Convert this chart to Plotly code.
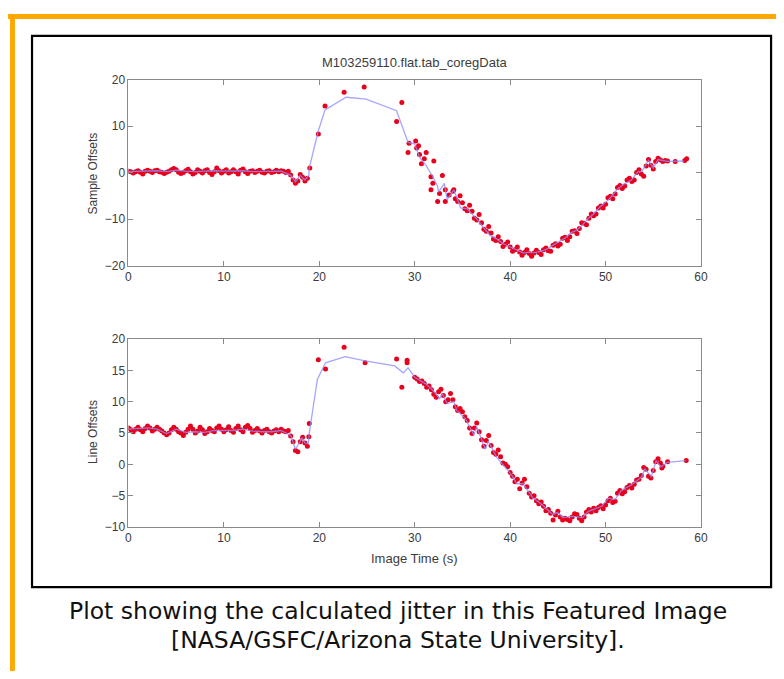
import numpy as np
import plotly.graph_objects as go

# The page body keeps its default 8px margin, so the figure is sized to fit the
# 784x679 window exactly and all reference pixel positions are offset by 8px.
PAGE_OFF = 8
W, H = 776, 663

# ---------------- DATA ----------------
title_text = "M103259110.flat.tab_coregData"
x_ticks = [0, 10, 20, 30, 40, 50, 60]
top_y_ticks = [-20, -10, 0, 10, 20]
bot_y_ticks = [-10, -5, 0, 5, 10, 15, 20]

# sample time grids (s) of the dense image-line samples
t_early = np.round(np.arange(0, 76) * 0.25, 2)          # 0 .. 18.75
t_top_late = np.round(34 + np.arange(0, 91) * 0.25, 2)  # 34 .. 56.5
t_bot_late = np.round(30 + np.arange(0, 105) * 0.25, 2) # 30 .. 56

# ---- Sample offsets (top panel) ----
sample_early = [
    0.3, 0.2, -0.1, 0.2, 0.4, 0.1, -0.3, 0.3, 0.5, 0.3, 0.0, 0.4, 0.5, 0.2, 0.1, -0.2,
    0.1, 0.3, 0.6, 0.9, 0.6, 0.1, -0.2, 0.0, 0.4, 0.7, 0.2, -0.3, 0.0, 0.6, 0.3, -0.1,
    0.4, 0.6, 0.0, -0.4, 0.2, 1.0, 0.4, -0.1, 0.3, 0.6, -0.1, 0.2, 0.6, 0.2, -0.3, 0.5,
    0.8, 0.2, -0.2, 0.3, 0.4, 0.0, 0.3, 0.5, 0.1, -0.1, 0.3, 0.4, 0.0, 0.2, 0.5, 0.2,
    0.4, 0.3, 0.0, 0.3, -0.5, -1.6, -2.3, -1.8, -0.4, -1.0, -1.8, -1.2,
]
sample_sparse_t = [19.0, 19.9, 20.6, 22.6, 24.7, 28.1, 28.65, 29.3, 29.4, 30.1, 30.2, 30.4,
                   30.5, 30.7, 31.0, 31.2, 31.7, 31.9, 31.7, 32.0, 32.4, 32.6, 32.9, 33.2,
                   33.2, 33.6, 34.1, 57.3, 58.3, 58.5]
sample_sparse_v = [1.0, 8.3, 14.3, 17.3, 18.4, 11.0, 15.1, 4.3, 6.3, 6.8, 5.3, 5.8,
                   3.9, 1.9, 3.0, 4.3, -0.9, -2.3, -3.7, 2.5, -6.2, -4.5, -0.6, -3.7,
                   -6.2, -4.8, -3.7, 2.4, 2.6, 3.0]
sample_late = [
    -4.0, -5.6, -6.2, -5.0, -6.5, -7.8, -8.2, -7.0, -8.3, -9.8, -10.2, -9.0,
    -10.8, -12.2, -12.6, -11.6, -13.0, -14.3, -14.6, -13.8, -14.8, -15.9, -15.4, -14.9,
    -16.0, -16.9, -16.6, -16.0, -17.1, -17.8, -17.2, -16.6, -17.4, -18.0, -17.3, -16.7,
    -17.2, -17.6, -16.6, -16.2, -16.8, -16.9, -15.6, -15.3, -15.8, -15.4, -14.1, -13.9,
    -14.6, -13.8, -12.6, -12.5, -13.1, -12.0, -10.8, -10.9, -11.2, -9.8, -8.9, -9.3,
    -8.9, -7.6, -7.2, -7.6, -6.8, -5.4, -5.1, -5.6, -4.6, -3.2, -2.8, -3.4,
    -2.9, -1.6, -1.2, -1.9, -1.6, 0.0, 0.6, -0.3, -0.8, 1.4, 2.8, 1.6,
    0.8, 2.4, 3.1, 2.7, 2.4, 2.6, 2.5,
]
sample_fit_t = [0, 1, 2, 3, 4, 5, 6, 7, 8, 9, 10, 11, 12, 13, 14, 15, 16, 17, 17.5, 18, 18.5,
                18.9, 18.95, 19.9, 20.6, 22.8, 24.9, 28.1, 29.3, 30.0, 30.5, 31.2, 31.9, 32.4,
                32.5, 33.1, 33.4, 34.1, 34.8, 35.5, 36.5, 37.2, 37.9, 38.6, 39.3, 40.0, 40.7,
                41.4, 42.0, 42.6, 43.3, 43.8, 44.5, 45.1, 45.8, 46.4, 46.9, 47.6, 48.2, 48.8,
                49.4, 50.0, 50.6, 51.3, 52.0, 52.7, 53.4, 53.8, 54.5, 55.0, 55.5, 56.0, 56.5, 58.2]
sample_fit_v = [0.2, 0.3, 0.4, 0.4, 0.2, 0.5, 0.3, 0.2, 0.3, 0.4, 0.3, 0.3, 0.4, 0.2, 0.2, 0.2,
                0.3, -0.6, -2.0, -0.6, -1.6, -0.6, 1.0, 9.0, 13.5, 16.2, 15.8, 13.3, 6.5, 6.2,
                3.3, 1.5, -0.9, -3.0, -4.2, -2.3, -5.8, -3.7, -7.6, -7.8, -10.0, -11.8, -13.5,
                -14.3, -15.3, -16.0, -16.7, -17.3, -17.1, -17.2, -16.9, -16.5, -15.6, -14.8,
                -14.0, -12.9, -12.5, -11.2, -9.8, -8.8, -7.4, -6.4, -5.2, -3.4, -2.4, -1.6,
                0.2, 0.2, 2.6, 1.0, 2.8, 2.6, 2.4, 2.5]

# ---- Line offsets (bottom panel) ----
line_early = [
    5.8, 5.5, 5.2, 5.6, 5.9, 5.5, 5.2, 5.7, 6.1, 5.8, 5.3, 5.6, 5.9, 5.6, 5.3, 5.0,
    4.7, 5.0, 5.5, 5.9, 5.6, 5.2, 5.0, 4.6, 5.1, 5.6, 6.1, 5.6, 5.0, 5.3, 5.9, 5.5,
    4.9, 5.2, 5.7, 5.4, 5.2, 5.8, 6.1, 5.6, 5.2, 5.5, 6.0, 5.4, 5.1, 5.7, 6.1, 5.5,
    5.2, 5.9, 6.2, 5.7, 5.1, 5.4, 5.7, 5.3, 5.0, 5.4, 5.6, 5.2, 5.0, 5.3, 5.5, 5.2,
    5.6, 5.3, 5.2, 5.4, 4.5, 3.6, 2.2, 2.0, 3.6, 4.3, 3.4, 2.9,
]
line_sparse_t = [18.9, 18.95, 19.9, 20.65, 22.6, 24.8, 28.1, 28.65, 29.2, 29.2, 55.9, 56.5, 58.45]
line_sparse_v = [4.4, 6.5, 16.7, 15.2, 18.7, 16.2, 16.8, 12.3, 16.6, 16.2, -0.6, 0.4, 0.6]
line_late = [
    13.9, 13.6, 13.2, 13.3, 12.9, 12.3, 12.5, 11.9, 11.2, 10.7, 11.6, 12.0,
    11.0, 10.0, 10.3, 11.3, 10.3, 9.2, 8.6, 8.9, 8.4, 7.6, 7.0, 5.8,
    4.9, 5.8, 6.6, 5.2, 3.9, 2.9, 3.8, 4.6, 3.0, 1.9, 1.6, 2.3,
    1.2, 0.2, 0.0, -0.4, -1.3, -1.9, -2.8, -2.4, -3.9, -3.0, -2.4, -3.6,
    -4.6, -5.2, -5.0, -5.8, -6.3, -6.0, -6.7, -7.4, -7.2, -7.8, -8.9, -8.1,
    -7.5, -8.4, -8.9, -8.6, -8.8, -9.0, -8.4, -7.9, -8.0, -8.6, -9.0, -8.4,
    -7.6, -7.2, -7.6, -7.0, -7.4, -6.9, -6.6, -7.1, -6.5, -5.8, -5.4, -6.1,
    -5.9, -4.6, -4.2, -4.7, -4.4, -3.7, -3.4, -3.8, -3.2, -2.5, -2.4, -1.8,
    -0.5, -0.8, -1.9, -2.2, -1.0, 0.4, 0.9, 0.2, -0.3,
]
line_fit_t = [0, 1, 2, 3, 4, 5, 6, 7, 8, 9, 10, 11, 12, 13, 14, 15, 16, 17, 17.5, 18.0, 18.2,
              18.5, 18.85, 18.95, 19.3, 19.8, 20.65, 22.7, 24.8, 27.9, 28.8, 29.3, 30.0, 30.65,
              31.2, 31.9, 32.6, 32.9, 33.4, 34.1, 34.4, 35.3, 35.8, 36.2, 36.5, 37.0, 37.4,
              37.7, 38.6, 39.6, 40.2, 40.7, 41.35, 42.4, 43.4, 44.45, 45.0, 45.5, 46.5, 47.6,
              48.2, 49.6, 50.3, 51.0, 51.7, 52.7, 53.8, 54.1, 54.8, 55.3, 55.8, 56.5, 58.4]
line_fit_v = [5.6, 5.7, 5.8, 5.6, 4.9, 5.6, 5.1, 5.2, 5.1, 5.4, 5.4, 5.4, 5.6, 5.3, 5.2, 5.2,
              5.4, 4.6, 2.4, 3.6, 4.2, 3.4, 3.3, 5.0, 8.9, 13.6, 16.2, 17.2, 16.5, 15.7, 14.6,
              15.4, 13.9, 13.3, 12.8, 11.8, 10.5, 11.25, 9.7, 10.0, 8.6, 7.3, 5.8, 4.7, 6.0,
              4.0, 2.4, 3.7, 1.1, -0.7, -1.8, -3.1, -3.1, -5.4, -6.5, -8.0, -7.7, -8.5, -8.3,
              -8.5, -7.5, -6.7, -5.4, -5.6, -4.1, -3.3, -2.0, -0.7, -2.0, 0.6, -0.4, 0.3, 0.6]

assert len(sample_early) == len(t_early) and len(line_early) == len(t_early)
assert len(sample_late) == len(t_top_late) and len(line_late) == len(t_bot_late)
assert len(sample_fit_t) == len(sample_fit_v) and len(line_fit_t) == len(line_fit_v)
assert len(sample_sparse_t) == len(sample_sparse_v) and len(line_sparse_t) == len(line_sparse_v)

# ---------------- FIGURE ----------------
RED = "#e8001c"
BLUE = "#8e8eff"
AX = "#8a8a8a"
TXT = "#3c3c3c"
FONT = "Liberation Sans, Arial, sans-serif"


def px_x(p):
    return (p - PAGE_OFF) / W


def px_y(p):
    return 1 - (p - PAGE_OFF) / H


fig = go.Figure()


def add_panel(xa, ya, fit_t, fit_v, groups):
    for tt, vv in groups:
        fig.add_trace(go.Scatter(x=list(tt), y=vv, mode="markers", xaxis=xa, yaxis=ya,
                                 marker=dict(color=RED, size=5, line=dict(width=0)),
                                 hoverinfo="skip", showlegend=False))
    fig.add_trace(go.Scatter(x=fit_t, y=fit_v, mode="lines", xaxis=xa, yaxis=ya,
                             line=dict(color=BLUE, width=1.3), opacity=0.8,
                             hoverinfo="skip", showlegend=False))


add_panel("x", "y", sample_fit_t, sample_fit_v,
          [(t_early, sample_early), (sample_sparse_t, sample_sparse_v), (t_top_late, sample_late)])
add_panel("x2", "y2", line_fit_t, line_fit_v,
          [(t_early, line_early), (line_sparse_t, line_sparse_v), (t_bot_late, line_late)])

axis_common = dict(showline=True, linecolor=AX, linewidth=1, mirror="ticks", ticks="inside",
                   ticklen=5, tickcolor=AX, tickwidth=1, showgrid=False, zeroline=False,
                   tickfont=dict(family=FONT, size=12, color=TXT))

fig.update_layout(
    width=W, height=H, margin=dict(l=0, r=0, t=0, b=0),
    paper_bgcolor="white", plot_bgcolor="white", showlegend=False,
    xaxis=dict(domain=[px_x(127), px_x(707)], range=[0, 60], tickvals=x_ticks, anchor="y", **axis_common),
    yaxis=dict(domain=[px_y(264), px_y(74)], range=[-20, 20], tickvals=top_y_ticks, anchor="x", **axis_common),
    xaxis2=dict(domain=[px_x(127), px_x(707)], range=[0, 60], tickvals=x_ticks, anchor="y2", **axis_common),
    yaxis2=dict(domain=[px_y(531), px_y(339)], range=[-10, 20], tickvals=bot_y_ticks, anchor="x2", **axis_common),
)

shapes = [
    # orange frame (top and left)
    dict(type="rect", xref="paper", yref="paper", x0=px_x(5), x1=px_x(790), y0=px_y(12), y1=px_y(7),
         fillcolor="#FFA800", line=dict(width=0), layer="above"),
    dict(type="rect", xref="paper", yref="paper", x0=px_x(7), x1=px_x(12), y0=px_y(690), y1=px_y(7),
         fillcolor="#FFA800", line=dict(width=0), layer="above"),
    # black box around the figure
    dict(type="rect", xref="paper", yref="paper", x0=px_x(29.3), x1=px_x(778), y0=px_y(592.5), y1=px_y(29.3),
         fillcolor="rgba(0,0,0,0)", line=dict(color="black", width=2.2), layer="above"),
]
fig.update_layout(shapes=shapes)

annots = [
    dict(text=title_text, x=px_x(417), y=px_y(57), font=dict(family=FONT, size=13, color=TXT)),
    dict(text="Sample Offsets", x=px_x(91), y=px_y(170), textangle=-90, font=dict(family=FONT, size=12, color=TXT)),
    dict(text="Line Offsets", x=px_x(91), y=px_y(434), textangle=-90, font=dict(family=FONT, size=12, color=TXT)),
    dict(text="Image Time (s)", x=px_x(417), y=px_y(563), font=dict(family=FONT, size=13, color=TXT)),
    dict(text="Plot showing the calculated jitter in this Featured Image", x=px_x(400.5), y=px_y(617),
         font=dict(family="DejaVu Sans", size=23.5, color="#111111")),
    dict(text="[NASA/GSFC/Arizona State University].", x=px_x(400), y=px_y(646),
         font=dict(family="DejaVu Sans", size=23.5, color="#111111")),
]
for a in annots:
    a.update(xref="paper", yref="paper", showarrow=False, xanchor="center", yanchor="middle")
fig.update_layout(annotations=annots)

fig.write_html("out.html", config={"displayModeBar": False, "staticPlot": True})
